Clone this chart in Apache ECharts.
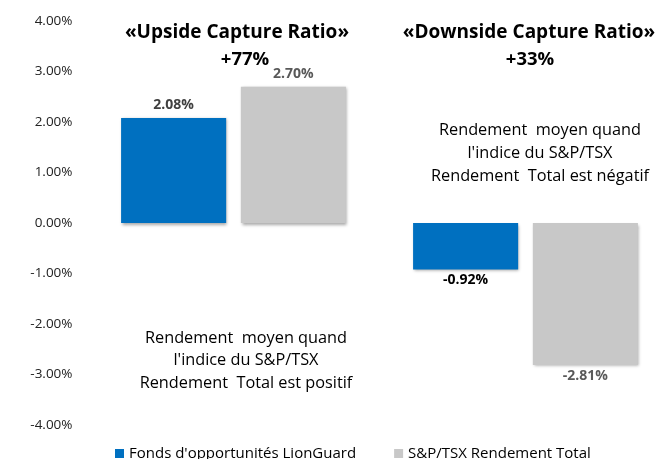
<!DOCTYPE html>
<html>
<head>
<meta charset="utf-8">
<script src="https://cdn.jsdelivr.net/npm/echarts@6/dist/echarts.min.js"></script>
<style>html,body{margin:0;padding:0;background:#fff}#c{width:660px;height:459px}</style>
</head>
<body>
<div id="c"></div>
<script>
const categories = ['Upside', 'Downside'];
const seriesNames = ["Fonds d'opportunités LionGuard", 'S&P/TSX Rendement Total'];
const fundValues = [2.08, -0.92];
const indexValues = [2.70, -2.81];
const yTicks = { min: -4, max: 4, interval: 1 };
const upsideTitle = ['«Upside Capture Ratio»', '+77%'];
const downsideTitle = ['«Downside Capture Ratio»', '+33%'];
const posNote = ['Rendement  moyen quand', "l'indice du S&P/TSX", 'Rendement  Total est positif'];
const negNote = ['Rendement  moyen quand', "l'indice du S&P/TSX", 'Rendement  Total est négatif'];

const FONT = '"Open Sans", sans-serif';
const fundLabelColors = ['#404040', '#000000'];
const indexLabelColors = ['#595959', '#595959'];

function items(values, colors) {
  return values.map((v, i) => ({
    value: v,
    label: { position: v >= 0 ? 'top' : 'bottom', color: colors[i], distance: v >= 0 ? 6 : 4 }
  }));
}

const chart = echarts.init(document.getElementById('c'));
const shadow = { shadowBlur: 3, shadowOffsetX: 1, shadowOffsetY: 1.5, shadowColor: 'rgba(0,0,0,0.35)' };
const labelBase = {
  show: true, fontFamily: FONT, fontWeight: 'bold', fontSize: 14,
  formatter: p => p.value.toFixed(2) + '%'
};

const graphics = [];
function centered(cx, cy, text, size, weight, color) {
  graphics.push({ type: 'text', x: cx, y: cy, style: { text: text, fontFamily: FONT, fontSize: size, fontWeight: weight, fill: color, align: 'center', verticalAlign: 'middle' } });
}
centered(237, 33, upsideTitle[0], 19, 'bold', '#000');
centered(245, 60, upsideTitle[1], 18.5, 'bold', '#000');
centered(529, 33, downsideTitle[0], 19, 'bold', '#000');
centered(530, 60, downsideTitle[1], 18.5, 'bold', '#000');
posNote.forEach((t, i) => centered(246, 338 + i * 22.5, t, 16.3, 'normal', '#000'));
negNote.forEach((t, i) => centered(540, 130 + i * 23, t, 16.3, 'normal', '#000'));

chart.setOption({
  animation: false,
  backgroundColor: '#fff',
  grid: { left: 87.5, right: -11.5, top: 21, bottom: 34, outerBoundsMode: 'none', containLabel: false },
  legend: {
    data: seriesNames, left: 110, top: 441, icon: 'rect', itemWidth: 9, itemHeight: 9, itemGap: 38,
    textStyle: { fontFamily: FONT, fontSize: 15, color: '#000' }
  },
  xAxis: { type: 'category', data: categories, show: false },
  yAxis: {
    type: 'value', min: yTicks.min, max: yTicks.max, interval: yTicks.interval,
    axisLine: { show: false }, axisTick: { show: false }, splitLine: { show: false },
    axisLabel: { margin: 15, fontFamily: FONT, fontSize: 13.5, color: '#222', formatter: v => v.toFixed(2) + '%' }
  },
  series: [
    { name: seriesNames[0], type: 'bar', data: items(fundValues, fundLabelColors), barGap: '14%', barCategoryGap: '23%',
      itemStyle: Object.assign({ color: '#0070C0' }, shadow), label: labelBase },
    { name: seriesNames[1], type: 'bar', data: items(indexValues, indexLabelColors),
      itemStyle: Object.assign({ color: '#C8C8C8' }, shadow), label: labelBase }
  ],
  graphic: graphics
});
</script>
</body>
</html>
